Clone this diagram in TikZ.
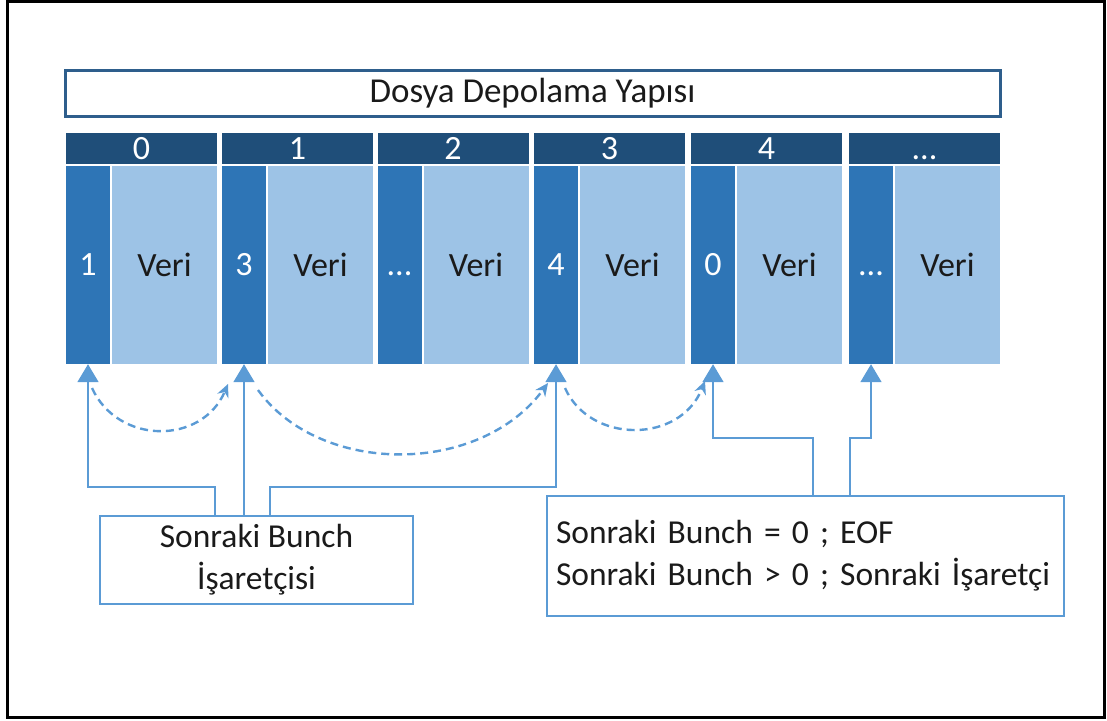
\documentclass[tikz,border=0pt]{standalone}
\usepackage{fontspec}
\setmainfont{Carlito}
\usetikzlibrary{arrows.meta}
\definecolor{hdr}{HTML}{1F4E79}
\definecolor{ptrc}{HTML}{2E75B6}
\definecolor{datc}{HTML}{9DC3E6}
\definecolor{lnk}{HTML}{5B9BD5}
\definecolor{ttl}{HTML}{2E5E8C}
\definecolor{txt}{HTML}{1A1A1A}
\newcommand{\elips}{\vphantom{0}{.}{.}{.}}
\begin{document}
\begin{tikzpicture}[x=1pt,y=-1pt,
  font=\fontsize{34}{42}\selectfont,
  hdrbox/.style={fill=hdr, minimum width=151pt, minimum height=31pt, inner sep=0pt, text=white},
  ptrbox/.style={fill=ptrc, minimum width=44pt, minimum height=198pt, inner sep=0pt, text=white},
  datbox/.style={fill=datc, minimum width=105pt, minimum height=198pt, inner sep=0pt, text=txt},
  lnkline/.style={draw=lnk, line width=1.8pt},
  uparrow/.style={lnkline, -{Triangle[length=18pt,width=21pt]}},
  dasharrow/.style={draw=lnk, line width=2.4pt, dash pattern=on 8pt off 5pt, -{Stealth[length=13pt,width=12pt]}},
  notebox/.style={draw=lnk, line width=1.8pt, fill=white, text=txt, font=\fontsize{33.5}{42}\selectfont}
]
\useasboundingbox (0,0) rectangle (1107,720);
\draw[line width=3pt] (7,1.5) rectangle (1104,717);

\node[draw=ttl, line width=3pt, minimum width=935pt, minimum height=46pt, inner sep=0pt, text=txt, font=\fontsize{35}{42}\selectfont] (title) at (532.5,93) {Dosya Depolama Yapısı};

\foreach \i/\x/\h/\p in {0/66/0/1, 1/222/1/3, 2/377.5/2/\elips, 3/534/3/4, 4/691/4/0, 5/849/\elips/\elips}{
  \node[hdrbox] (h\i) at (\x+75.5,148.5) {\h};
  \node[ptrbox] (p\i) at (\x+22,265) {\p};
  \node[datbox] (v\i) at (\x+98.5,265) {Veri};
}

\node[notebox, minimum width=313pt, minimum height=88pt, align=center, inner sep=0pt] (lbox) at (256.5,560) {Sonraki Bunch\\İşaretçisi};
\node[notebox, text width=499pt, inner xsep=9pt, inner ysep=0pt, minimum height=120pt, align=left] (rbox) at (805.5,556) {Sonraki Bunch = 0 ; EOF\\Sonraki Bunch > 0 ; Sonraki İşaretçi};

\draw[uparrow] ([xshift=-41.5pt]lbox.north) -- ++(0,-28) -| (p0.south);
\draw[uparrow] (lbox.north -| p1.south) -- (p1.south);
\draw[uparrow] ([xshift=13.5pt]lbox.north) -- ++(0,-28) -| (p3.south);
\draw[uparrow] ([xshift=7.5pt]rbox.north) -- ++(0,-57) -| (p4.south);
\draw[uparrow] ([xshift=44.5pt]rbox.north) -- ++(0,-57) -| (p5.south);

\coordinate (a0) at (92,388);
\coordinate (a1) at (228,384);
\coordinate (b0) at (258,390);
\coordinate (b1) at (548,383);
\coordinate (c0) at (565,388);
\coordinate (c1) at (705,381);
\draw[dasharrow] (a0) .. controls (118,445) and (202,445) .. (a1);
\draw[dasharrow] (b0) .. controls (320,476) and (480,476) .. (b1);
\draw[dasharrow] (c0) .. controls (590,444) and (680,444) .. (c1);
\end{tikzpicture}
\end{document}
